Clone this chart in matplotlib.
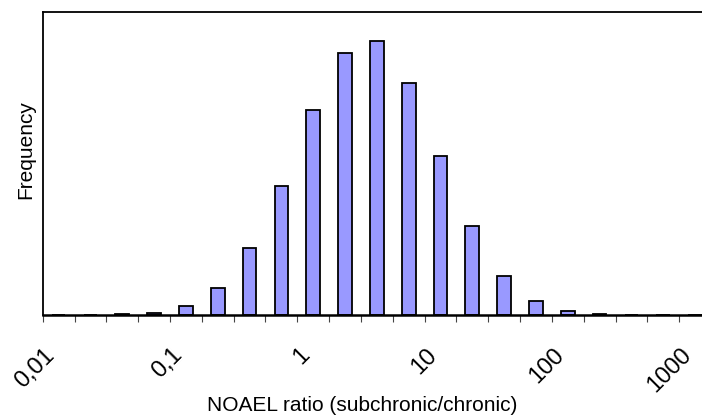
import matplotlib
matplotlib.use("Agg")
import matplotlib.pyplot as plt

# category bins: quarter-decade steps of the NOAEL ratio, from 0,01 to 1000
bin_labels = ['0,01', '', '', '', '0,1', '', '', '', '1', '', '', '',
              '10', '', '', '', '100', '', '', '', '1000']
# frequency (%) per bin
freq = [0.0, 0.0, 0.05, 0.15, 0.6, 1.8, 4.4, 8.5, 13.5, 17.3, 18.1,
        15.3, 10.5, 5.9, 2.6, 0.9, 0.26, 0.07, 0.03, 0.0, 0.0]

plt.rcParams['font.family'] = ['Liberation Sans', 'DejaVu Sans']

fig = plt.figure(figsize=(7.02, 4.19), dpi=100)
ax = fig.add_axes([42.7 / 702, 104 / 419, 668.3 / 702, 303.3 / 419])

pos = list(range(len(freq)))
ax.bar(pos, freq, width=0.43, color='#9999FF', edgecolor='black', linewidth=1.3)

ax.set_xlim(-0.5, len(freq) - 0.5)
ax.set_ylim(0, 20)

# tick marks sit between the categories, labels on every 4th category
ax.set_xticks([p - 0.5 for p in pos] + [len(freq) - 0.5])
ax.set_xticklabels([])
lab_pos = [p for p, l in zip(pos, bin_labels) if l]
ax.set_xticks([p + 0.02 for p in lab_pos], [l for l in bin_labels if l], minor=True)
ax.tick_params(axis='x', which='major', length=5, width=0.8, color='#444444', direction='out')
ax.tick_params(axis='x', which='minor', length=0, pad=21, labelsize=17)
for t in ax.get_xticklabels(minor=True):
    t.set_rotation(45)
    t.set_ha('right')
    t.set_va('top')
ax.set_yticks([])

ax.spines['bottom'].set_linewidth(1.8)
ax.spines['left'].set_linewidth(1.3)
ax.spines['top'].set_linewidth(1.3)
ax.spines['right'].set_visible(False)

fig.text(362 / 702, 1 - 405 / 419, 'NOAEL ratio (subchronic/chronic)',
         ha='center', va='center', fontsize=15)
fig.text(26 / 702, 1 - 150 / 419, 'Frequency', rotation=90,
         ha='center', va='center', fontsize=15)

fig.savefig('out.png', dpi=100)
